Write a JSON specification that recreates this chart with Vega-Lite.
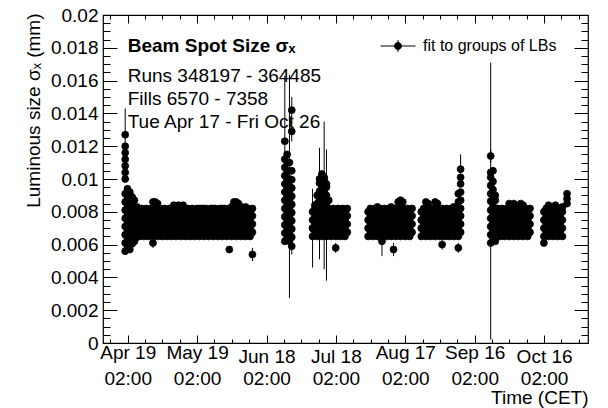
{
"$schema": "https://vega.github.io/schema/vega-lite/v6.json",
"width": 485, "height": 328,
"autosize": {"type": "none"},
"padding": {"left": 103, "top": 15, "right": 20, "bottom": 65},
"background": "white",
"config": {
  "view": {"stroke": "black", "strokeWidth": 1.2},
  "font": "Liberation Sans",
  "axis": {"domain": false, "grid": false, "labelColor": "black", "titleColor": "black", "tickColor": "black", "tickWidth": 1, "labelFont": "Liberation Sans", "titleFont": "Liberation Sans", "labelFontSize": 19, "titleFontSize": 19, "titleFontWeight": "normal", "labelFlush": false, "labelOverlap": false}
},
"datasets": {
"head": [{"t": "2018-04-19T02:00:00Z", "v": 0.01774, "label": "Beam Spot Size σₓ"}],
"notes": [
 {"t": "2018-04-19T02:00:00Z", "v": 0.01591, "label": "Runs 348197 - 364485"},
 {"t": "2018-04-19T02:00:00Z", "v": 0.01451, "label": "Fills 6570 - 7358"},
 {"t": "2018-04-19T02:00:00Z", "v": 0.01311, "label": "Tue Apr 17 - Fri Oct 26"}
],
"fits": [
{"t":"2018-04-18","v":0.0056},{"t":"2018-04-18","v":0.0061},{"t":"2018-04-18","v":0.0066},{"t":"2018-04-18","v":0.0071},{"t":"2018-04-18","v":0.0076},{"t":"2018-04-18","v":0.0081},{"t":"2018-04-18","v":0.0086},{"t":"2018-04-18","v":0.0091},{"t":"2018-04-18","v":0.0100},{"t":"2018-04-18","v":0.0104},{"t":"2018-04-18","v":0.0108},{"t":"2018-04-18","v":0.0112},{"t":"2018-04-18","v":0.0116},{"t":"2018-04-18","v":0.0120},{"t":"2018-04-18","v":0.0127,"e":0.0016},
{"t":"2018-04-19","v":0.00585},{"t":"2018-04-19","v":0.00635},{"t":"2018-04-19","v":0.00685},{"t":"2018-04-19","v":0.00735},{"t":"2018-04-19","v":0.00785},{"t":"2018-04-19","v":0.00835},{"t":"2018-04-19","v":0.00885},{"t":"2018-04-19","v":0.0094},
{"t":"2018-04-20","v":0.0057},{"t":"2018-04-20","v":0.0062},{"t":"2018-04-20","v":0.0067},{"t":"2018-04-20","v":0.0072},{"t":"2018-04-20","v":0.0077},{"t":"2018-04-20","v":0.0082},{"t":"2018-04-20","v":0.0087},{"t":"2018-04-20","v":0.0092},
{"t":"2018-04-21","v":0.00605},{"t":"2018-04-21","v":0.00655},{"t":"2018-04-21","v":0.00705},{"t":"2018-04-21","v":0.00755},{"t":"2018-04-21","v":0.00805},{"t":"2018-04-21","v":0.00855},{"t":"2018-04-21","v":0.0089},
{"t":"2018-04-22","v":0.0062},{"t":"2018-04-22","v":0.0067},{"t":"2018-04-22","v":0.0072},{"t":"2018-04-22","v":0.0077},{"t":"2018-04-22","v":0.0082},{"t":"2018-04-22","v":0.0087},
{"t":"2018-04-23","v":0.00645},{"t":"2018-04-23","v":0.00695},{"t":"2018-04-23","v":0.00745},{"t":"2018-04-23","v":0.00795},{"t":"2018-04-23","v":0.0083},
{"t":"2018-04-24","v":0.0065},{"t":"2018-04-24","v":0.0070},{"t":"2018-04-24","v":0.0075},{"t":"2018-04-24","v":0.0080},
{"t":"2018-04-25","v":0.00675},{"t":"2018-04-25","v":0.00725},{"t":"2018-04-25","v":0.00775},{"t":"2018-04-25","v":0.0082},
{"t":"2018-04-26","v":0.0065},{"t":"2018-04-26","v":0.0070},{"t":"2018-04-26","v":0.0075},{"t":"2018-04-26","v":0.0080},
{"t":"2018-04-27","v":0.00675},{"t":"2018-04-27","v":0.00725},{"t":"2018-04-27","v":0.00775},{"t":"2018-04-27","v":0.0082},
{"t":"2018-04-28","v":0.0065},{"t":"2018-04-28","v":0.0070},{"t":"2018-04-28","v":0.0075},{"t":"2018-04-28","v":0.0080},
{"t":"2018-04-29","v":0.00675},{"t":"2018-04-29","v":0.00725},{"t":"2018-04-29","v":0.00775},{"t":"2018-04-29","v":0.0082},
{"t":"2018-04-30","v":0.0065},{"t":"2018-04-30","v":0.0070},{"t":"2018-04-30","v":0.0075},{"t":"2018-04-30","v":0.0080},{"t":"2018-04-30","v":0.0086},{"t":"2018-04-30","v":0.0061,"e":0.0003},
{"t":"2018-05-01","v":0.00675},{"t":"2018-05-01","v":0.00725},{"t":"2018-05-01","v":0.00775},{"t":"2018-05-01","v":0.0082},{"t":"2018-05-01","v":0.0086},
{"t":"2018-05-02","v":0.0065},{"t":"2018-05-02","v":0.0070},{"t":"2018-05-02","v":0.0075},{"t":"2018-05-02","v":0.0080},{"t":"2018-05-02","v":0.0085},
{"t":"2018-05-03","v":0.00675},{"t":"2018-05-03","v":0.00725},{"t":"2018-05-03","v":0.00775},{"t":"2018-05-03","v":0.0082},
{"t":"2018-05-04","v":0.0065},{"t":"2018-05-04","v":0.0070},{"t":"2018-05-04","v":0.0075},{"t":"2018-05-04","v":0.0080},
{"t":"2018-05-05","v":0.00675},{"t":"2018-05-05","v":0.00725},{"t":"2018-05-05","v":0.00775},{"t":"2018-05-05","v":0.0082},
{"t":"2018-05-06","v":0.0065},{"t":"2018-05-06","v":0.0070},{"t":"2018-05-06","v":0.0075},{"t":"2018-05-06","v":0.0080},
{"t":"2018-05-07","v":0.00675},{"t":"2018-05-07","v":0.00725},{"t":"2018-05-07","v":0.00775},{"t":"2018-05-07","v":0.0082},
{"t":"2018-05-08","v":0.0065},{"t":"2018-05-08","v":0.0070},{"t":"2018-05-08","v":0.0075},{"t":"2018-05-08","v":0.0080},
{"t":"2018-05-09","v":0.00675},{"t":"2018-05-09","v":0.00725},{"t":"2018-05-09","v":0.00775},{"t":"2018-05-09","v":0.0082},{"t":"2018-05-09","v":0.0084},
{"t":"2018-05-10","v":0.0065},{"t":"2018-05-10","v":0.0070},{"t":"2018-05-10","v":0.0075},{"t":"2018-05-10","v":0.0080},{"t":"2018-05-10","v":0.0083},
{"t":"2018-05-11","v":0.00675},{"t":"2018-05-11","v":0.00725},{"t":"2018-05-11","v":0.00775},{"t":"2018-05-11","v":0.0082},{"t":"2018-05-11","v":0.0084},
{"t":"2018-05-12","v":0.0065},{"t":"2018-05-12","v":0.0070},{"t":"2018-05-12","v":0.0075},{"t":"2018-05-12","v":0.0080},{"t":"2018-05-12","v":0.0083},
{"t":"2018-05-13","v":0.00675},{"t":"2018-05-13","v":0.00725},{"t":"2018-05-13","v":0.00775},{"t":"2018-05-13","v":0.0082},{"t":"2018-05-13","v":0.0084},
{"t":"2018-05-14","v":0.0065},{"t":"2018-05-14","v":0.0070},{"t":"2018-05-14","v":0.0075},{"t":"2018-05-14","v":0.0080},
{"t":"2018-05-15","v":0.00675},{"t":"2018-05-15","v":0.00725},{"t":"2018-05-15","v":0.00775},{"t":"2018-05-15","v":0.0082},
{"t":"2018-05-16","v":0.0065},{"t":"2018-05-16","v":0.0070},{"t":"2018-05-16","v":0.0075},{"t":"2018-05-16","v":0.0080},
{"t":"2018-05-17","v":0.00675},{"t":"2018-05-17","v":0.00725},{"t":"2018-05-17","v":0.00775},{"t":"2018-05-17","v":0.0082},
{"t":"2018-05-18","v":0.0065},{"t":"2018-05-18","v":0.0070},{"t":"2018-05-18","v":0.0075},{"t":"2018-05-18","v":0.0080},
{"t":"2018-05-19","v":0.00675},{"t":"2018-05-19","v":0.00725},{"t":"2018-05-19","v":0.00775},{"t":"2018-05-19","v":0.0082},
{"t":"2018-05-20","v":0.0065},{"t":"2018-05-20","v":0.0070},{"t":"2018-05-20","v":0.0075},{"t":"2018-05-20","v":0.0080},{"t":"2018-05-20","v":0.0082},
{"t":"2018-05-21","v":0.00675},{"t":"2018-05-21","v":0.00725},{"t":"2018-05-21","v":0.00775},{"t":"2018-05-21","v":0.0082},
{"t":"2018-05-22","v":0.0065},{"t":"2018-05-22","v":0.0070},{"t":"2018-05-22","v":0.0075},{"t":"2018-05-22","v":0.0080},{"t":"2018-05-22","v":0.0082},
{"t":"2018-05-23","v":0.00675},{"t":"2018-05-23","v":0.00725},{"t":"2018-05-23","v":0.00775},{"t":"2018-05-23","v":0.0082},
{"t":"2018-05-24","v":0.0065},{"t":"2018-05-24","v":0.0070},{"t":"2018-05-24","v":0.0075},{"t":"2018-05-24","v":0.0080},
{"t":"2018-05-25","v":0.00675},{"t":"2018-05-25","v":0.00725},{"t":"2018-05-25","v":0.00775},{"t":"2018-05-25","v":0.0082},
{"t":"2018-05-26","v":0.0065},{"t":"2018-05-26","v":0.0070},{"t":"2018-05-26","v":0.0075},{"t":"2018-05-26","v":0.0080},{"t":"2018-05-26","v":0.0082},
{"t":"2018-05-27","v":0.00675},{"t":"2018-05-27","v":0.00725},{"t":"2018-05-27","v":0.00775},{"t":"2018-05-27","v":0.0082},
{"t":"2018-05-28","v":0.0065},{"t":"2018-05-28","v":0.0070},{"t":"2018-05-28","v":0.0075},{"t":"2018-05-28","v":0.0080},
{"t":"2018-05-29","v":0.00675},{"t":"2018-05-29","v":0.00725},{"t":"2018-05-29","v":0.00775},{"t":"2018-05-29","v":0.0082},
{"t":"2018-05-30","v":0.0065},{"t":"2018-05-30","v":0.0070},{"t":"2018-05-30","v":0.0075},{"t":"2018-05-30","v":0.0080},{"t":"2018-05-30","v":0.0082},
{"t":"2018-05-31","v":0.00675},{"t":"2018-05-31","v":0.00725},{"t":"2018-05-31","v":0.00775},{"t":"2018-05-31","v":0.0082},
{"t":"2018-06-01","v":0.0065},{"t":"2018-06-01","v":0.0070},{"t":"2018-06-01","v":0.0075},{"t":"2018-06-01","v":0.0080},
{"t":"2018-06-02","v":0.00675},{"t":"2018-06-02","v":0.00725},{"t":"2018-06-02","v":0.00775},{"t":"2018-06-02","v":0.0082},{"t":"2018-06-02","v":0.0057,"e":0.0002},
{"t":"2018-06-03","v":0.0065},{"t":"2018-06-03","v":0.0070},{"t":"2018-06-03","v":0.0075},{"t":"2018-06-03","v":0.0080},{"t":"2018-06-03","v":0.0083},
{"t":"2018-06-04","v":0.00675},{"t":"2018-06-04","v":0.00725},{"t":"2018-06-04","v":0.00775},{"t":"2018-06-04","v":0.0082},{"t":"2018-06-04","v":0.0086},
{"t":"2018-06-05","v":0.0065},{"t":"2018-06-05","v":0.0070},{"t":"2018-06-05","v":0.0075},{"t":"2018-06-05","v":0.0080},{"t":"2018-06-05","v":0.0086},
{"t":"2018-06-06","v":0.00675},{"t":"2018-06-06","v":0.00725},{"t":"2018-06-06","v":0.00775},{"t":"2018-06-06","v":0.0082},{"t":"2018-06-06","v":0.0085},
{"t":"2018-06-07","v":0.0065},{"t":"2018-06-07","v":0.0070},{"t":"2018-06-07","v":0.0075},{"t":"2018-06-07","v":0.0080},{"t":"2018-06-07","v":0.0083},
{"t":"2018-06-08","v":0.00675},{"t":"2018-06-08","v":0.00725},{"t":"2018-06-08","v":0.00775},{"t":"2018-06-08","v":0.0082},
{"t":"2018-06-09","v":0.0065},{"t":"2018-06-09","v":0.0070},{"t":"2018-06-09","v":0.0075},{"t":"2018-06-09","v":0.0080},{"t":"2018-06-09","v":0.0083},
{"t":"2018-06-10","v":0.00675},{"t":"2018-06-10","v":0.00725},{"t":"2018-06-10","v":0.00775},{"t":"2018-06-10","v":0.0082},
{"t":"2018-06-11","v":0.0065},{"t":"2018-06-11","v":0.0070},{"t":"2018-06-11","v":0.0075},{"t":"2018-06-11","v":0.0080},
{"t":"2018-06-12","v":0.00675},{"t":"2018-06-12","v":0.00725},{"t":"2018-06-12","v":0.00775},{"t":"2018-06-12","v":0.0082},{"t":"2018-06-12","v":0.0054,"e":0.0004},
{"t":"2018-06-26","v":0.0062},{"t":"2018-06-26","v":0.0067},{"t":"2018-06-26","v":0.0072},{"t":"2018-06-26","v":0.0077},{"t":"2018-06-26","v":0.0082},{"t":"2018-06-26","v":0.0087},{"t":"2018-06-26","v":0.0092},{"t":"2018-06-26","v":0.0097},{"t":"2018-06-26","v":0.0102},{"t":"2018-06-26","v":0.0107},{"t":"2018-06-26","v":0.0112},{"t":"2018-06-26","v":0.0123,"e":0.0040},
{"t":"2018-06-27","v":0.00645},{"t":"2018-06-27","v":0.00695},{"t":"2018-06-27","v":0.00745},{"t":"2018-06-27","v":0.00795},{"t":"2018-06-27","v":0.00845},{"t":"2018-06-27","v":0.00895},{"t":"2018-06-27","v":0.00945},{"t":"2018-06-27","v":0.00995},{"t":"2018-06-27","v":0.01045},{"t":"2018-06-27","v":0.0110},{"t":"2018-06-27","v":0.0115},
{"t":"2018-06-28","v":0.0062},{"t":"2018-06-28","v":0.0067},{"t":"2018-06-28","v":0.0072},{"t":"2018-06-28","v":0.0077},{"t":"2018-06-28","v":0.0082},{"t":"2018-06-28","v":0.0087},{"t":"2018-06-28","v":0.0092},{"t":"2018-06-28","v":0.00955,"e":0.0068},{"t":"2018-06-28","v":0.0100},{"t":"2018-06-28","v":0.0105},{"t":"2018-06-28","v":0.0110},
{"t":"2018-06-29","v":0.0059,"e":0.0005},{"t":"2018-06-29","v":0.00645},{"t":"2018-06-29","v":0.00695},{"t":"2018-06-29","v":0.00745},{"t":"2018-06-29","v":0.00795},{"t":"2018-06-29","v":0.00845},{"t":"2018-06-29","v":0.00895},{"t":"2018-06-29","v":0.00945},{"t":"2018-06-29","v":0.00995},{"t":"2018-06-29","v":0.0105},{"t":"2018-06-29","v":0.0129,"e":0.0006},{"t":"2018-06-29","v":0.0142,"e":0.0008},
{"t":"2018-07-08","v":0.0065},{"t":"2018-07-08","v":0.0070},{"t":"2018-07-08","v":0.0075},{"t":"2018-07-08","v":0.0080},{"t":"2018-07-08","v":0.0070,"e":0.0024},
{"t":"2018-07-09","v":0.00675},{"t":"2018-07-09","v":0.00725},{"t":"2018-07-09","v":0.00775},{"t":"2018-07-09","v":0.0082},{"t":"2018-07-09","v":0.0084},
{"t":"2018-07-10","v":0.0065},{"t":"2018-07-10","v":0.0070},{"t":"2018-07-10","v":0.0075},{"t":"2018-07-10","v":0.0080},{"t":"2018-07-10","v":0.0085},{"t":"2018-07-10","v":0.0090},
{"t":"2018-07-11","v":0.00675},{"t":"2018-07-11","v":0.00725},{"t":"2018-07-11","v":0.00775},{"t":"2018-07-11","v":0.00825},{"t":"2018-07-11","v":0.00875},{"t":"2018-07-11","v":0.00925},{"t":"2018-07-11","v":0.00975},{"t":"2018-07-11","v":0.0100},{"t":"2018-07-11","v":0.0085,"e":0.0034},
{"t":"2018-07-12","v":0.0065},{"t":"2018-07-12","v":0.0070},{"t":"2018-07-12","v":0.0075},{"t":"2018-07-12","v":0.0080},{"t":"2018-07-12","v":0.0085},{"t":"2018-07-12","v":0.0090},{"t":"2018-07-12","v":0.0095},{"t":"2018-07-12","v":0.0100},{"t":"2018-07-12","v":0.0103},
{"t":"2018-07-13","v":0.00675},{"t":"2018-07-13","v":0.00725},{"t":"2018-07-13","v":0.00775},{"t":"2018-07-13","v":0.00825},{"t":"2018-07-13","v":0.00875},{"t":"2018-07-13","v":0.00925},{"t":"2018-07-13","v":0.00975},{"t":"2018-07-13","v":0.0101},{"t":"2018-07-13","v":0.0100,"e":0.0035},{"t":"2018-07-13","v":0.0070,"e":0.0025},
{"t":"2018-07-14","v":0.0065},{"t":"2018-07-14","v":0.0070},{"t":"2018-07-14","v":0.0075},{"t":"2018-07-14","v":0.0078,"e":0.0040},{"t":"2018-07-14","v":0.0080},{"t":"2018-07-14","v":0.0085},{"t":"2018-07-14","v":0.0090},{"t":"2018-07-14","v":0.0095},{"t":"2018-07-14","v":0.0097},
{"t":"2018-07-15","v":0.00675},{"t":"2018-07-15","v":0.00725},{"t":"2018-07-15","v":0.00775},{"t":"2018-07-15","v":0.0082},{"t":"2018-07-15","v":0.0087},
{"t":"2018-07-16","v":0.0065},{"t":"2018-07-16","v":0.0070},{"t":"2018-07-16","v":0.0075},{"t":"2018-07-16","v":0.0080},
{"t":"2018-07-17","v":0.00675},{"t":"2018-07-17","v":0.00725},{"t":"2018-07-17","v":0.00775},{"t":"2018-07-17","v":0.0082},
{"t":"2018-07-18","v":0.0065},{"t":"2018-07-18","v":0.0070},{"t":"2018-07-18","v":0.0075},{"t":"2018-07-18","v":0.0080},{"t":"2018-07-18","v":0.0058,"e":0.0003},
{"t":"2018-07-19","v":0.00675},{"t":"2018-07-19","v":0.00725},{"t":"2018-07-19","v":0.00775},{"t":"2018-07-19","v":0.0082},
{"t":"2018-07-20","v":0.0065},{"t":"2018-07-20","v":0.0070},{"t":"2018-07-20","v":0.0075},{"t":"2018-07-20","v":0.0080},
{"t":"2018-07-21","v":0.00675},{"t":"2018-07-21","v":0.00725},{"t":"2018-07-21","v":0.00775},{"t":"2018-07-21","v":0.0082},
{"t":"2018-07-22","v":0.0065},{"t":"2018-07-22","v":0.0070},{"t":"2018-07-22","v":0.0075},{"t":"2018-07-22","v":0.0080},
{"t":"2018-07-23","v":0.00675},{"t":"2018-07-23","v":0.00725},{"t":"2018-07-23","v":0.00775},{"t":"2018-07-23","v":0.0082},
{"t":"2018-08-01","v":0.0065},{"t":"2018-08-01","v":0.0070},{"t":"2018-08-01","v":0.0075},{"t":"2018-08-01","v":0.0080},
{"t":"2018-08-02","v":0.00675},{"t":"2018-08-02","v":0.00725},{"t":"2018-08-02","v":0.00775},{"t":"2018-08-02","v":0.0082},
{"t":"2018-08-03","v":0.0065},{"t":"2018-08-03","v":0.0070},{"t":"2018-08-03","v":0.0075},{"t":"2018-08-03","v":0.0080},
{"t":"2018-08-04","v":0.00675},{"t":"2018-08-04","v":0.00725},{"t":"2018-08-04","v":0.00775},{"t":"2018-08-04","v":0.0082},
{"t":"2018-08-05","v":0.0065},{"t":"2018-08-05","v":0.0070},{"t":"2018-08-05","v":0.0075},{"t":"2018-08-05","v":0.0080},{"t":"2018-08-05","v":0.0083},
{"t":"2018-08-06","v":0.00675},{"t":"2018-08-06","v":0.00725},{"t":"2018-08-06","v":0.00775},{"t":"2018-08-06","v":0.0082},
{"t":"2018-08-07","v":0.0065},{"t":"2018-08-07","v":0.0070},{"t":"2018-08-07","v":0.0075},{"t":"2018-08-07","v":0.0080},{"t":"2018-08-07","v":0.0062,"e":0.0009},
{"t":"2018-08-08","v":0.00675},{"t":"2018-08-08","v":0.00725},{"t":"2018-08-08","v":0.00775},{"t":"2018-08-08","v":0.0082},
{"t":"2018-08-09","v":0.0065},{"t":"2018-08-09","v":0.0070},{"t":"2018-08-09","v":0.0075},{"t":"2018-08-09","v":0.0080},
{"t":"2018-08-10","v":0.00675},{"t":"2018-08-10","v":0.00725},{"t":"2018-08-10","v":0.00775},{"t":"2018-08-10","v":0.0082},
{"t":"2018-08-11","v":0.0065},{"t":"2018-08-11","v":0.0070},{"t":"2018-08-11","v":0.0075},{"t":"2018-08-11","v":0.0080},{"t":"2018-08-11","v":0.0083},
{"t":"2018-08-12","v":0.00675},{"t":"2018-08-12","v":0.00725},{"t":"2018-08-12","v":0.00775},{"t":"2018-08-12","v":0.0082},{"t":"2018-08-12","v":0.0057,"e":0.0004},
{"t":"2018-08-13","v":0.0065},{"t":"2018-08-13","v":0.0070},{"t":"2018-08-13","v":0.0075},{"t":"2018-08-13","v":0.0080},
{"t":"2018-08-14","v":0.00675},{"t":"2018-08-14","v":0.00725},{"t":"2018-08-14","v":0.00775},{"t":"2018-08-14","v":0.0082},{"t":"2018-08-14","v":0.0086},
{"t":"2018-08-15","v":0.0065},{"t":"2018-08-15","v":0.0070},{"t":"2018-08-15","v":0.0075},{"t":"2018-08-15","v":0.0080},{"t":"2018-08-15","v":0.0087},
{"t":"2018-08-16","v":0.00675},{"t":"2018-08-16","v":0.00725},{"t":"2018-08-16","v":0.00775},{"t":"2018-08-16","v":0.0082},{"t":"2018-08-16","v":0.0086},
{"t":"2018-08-17","v":0.0065},{"t":"2018-08-17","v":0.0070},{"t":"2018-08-17","v":0.0075},{"t":"2018-08-17","v":0.0080},
{"t":"2018-08-18","v":0.00675},{"t":"2018-08-18","v":0.00725},{"t":"2018-08-18","v":0.00775},{"t":"2018-08-18","v":0.0082},
{"t":"2018-08-19","v":0.0065},{"t":"2018-08-19","v":0.0070},{"t":"2018-08-19","v":0.0075},{"t":"2018-08-19","v":0.0080},
{"t":"2018-08-20","v":0.00675},{"t":"2018-08-20","v":0.00725},{"t":"2018-08-20","v":0.00775},{"t":"2018-08-20","v":0.0082},
{"t":"2018-08-24","v":0.0065},{"t":"2018-08-24","v":0.0070},{"t":"2018-08-24","v":0.0075},{"t":"2018-08-24","v":0.0080},
{"t":"2018-08-25","v":0.00675},{"t":"2018-08-25","v":0.00725},{"t":"2018-08-25","v":0.00775},{"t":"2018-08-25","v":0.0082},
{"t":"2018-08-26","v":0.0065},{"t":"2018-08-26","v":0.0070},{"t":"2018-08-26","v":0.0075},{"t":"2018-08-26","v":0.0080},{"t":"2018-08-26","v":0.0086},
{"t":"2018-08-27","v":0.00675},{"t":"2018-08-27","v":0.00725},{"t":"2018-08-27","v":0.00775},{"t":"2018-08-27","v":0.0082},{"t":"2018-08-27","v":0.0085},
{"t":"2018-08-28","v":0.0065},{"t":"2018-08-28","v":0.0070},{"t":"2018-08-28","v":0.0075},{"t":"2018-08-28","v":0.0080},
{"t":"2018-08-29","v":0.00675},{"t":"2018-08-29","v":0.00725},{"t":"2018-08-29","v":0.00775},{"t":"2018-08-29","v":0.0082},
{"t":"2018-08-30","v":0.0065},{"t":"2018-08-30","v":0.0070},{"t":"2018-08-30","v":0.0075},{"t":"2018-08-30","v":0.0080},{"t":"2018-08-30","v":0.0086},
{"t":"2018-08-31","v":0.00675},{"t":"2018-08-31","v":0.00725},{"t":"2018-08-31","v":0.00775},{"t":"2018-08-31","v":0.0082},{"t":"2018-08-31","v":0.0085},
{"t":"2018-09-01","v":0.0065},{"t":"2018-09-01","v":0.0070},{"t":"2018-09-01","v":0.0075},{"t":"2018-09-01","v":0.0080},
{"t":"2018-09-02","v":0.00675},{"t":"2018-09-02","v":0.00725},{"t":"2018-09-02","v":0.00775},{"t":"2018-09-02","v":0.0082},{"t":"2018-09-02","v":0.0060,"e":0.0003},
{"t":"2018-09-03","v":0.0065},{"t":"2018-09-03","v":0.0070},{"t":"2018-09-03","v":0.0075},{"t":"2018-09-03","v":0.0080},
{"t":"2018-09-04","v":0.00675},{"t":"2018-09-04","v":0.00725},{"t":"2018-09-04","v":0.00775},{"t":"2018-09-04","v":0.0082},
{"t":"2018-09-05","v":0.0065},{"t":"2018-09-05","v":0.0070},{"t":"2018-09-05","v":0.0075},{"t":"2018-09-05","v":0.0080},
{"t":"2018-09-06","v":0.00675},{"t":"2018-09-06","v":0.00725},{"t":"2018-09-06","v":0.00775},{"t":"2018-09-06","v":0.0082},
{"t":"2018-09-07","v":0.0065},{"t":"2018-09-07","v":0.0070},{"t":"2018-09-07","v":0.0075},{"t":"2018-09-07","v":0.0080},{"t":"2018-09-07","v":0.0083},
{"t":"2018-09-08","v":0.00675},{"t":"2018-09-08","v":0.00725},{"t":"2018-09-08","v":0.00775},{"t":"2018-09-08","v":0.0082},
{"t":"2018-09-09","v":0.0065},{"t":"2018-09-09","v":0.0070},{"t":"2018-09-09","v":0.0075},{"t":"2018-09-09","v":0.0080},{"t":"2018-09-09","v":0.0086},{"t":"2018-09-09","v":0.0091},{"t":"2018-09-09","v":0.0058,"e":0.0003},
{"t":"2018-09-10","v":0.00675},{"t":"2018-09-10","v":0.00725},{"t":"2018-09-10","v":0.00775},{"t":"2018-09-10","v":0.0082},{"t":"2018-09-10","v":0.0087},{"t":"2018-09-10","v":0.0092},{"t":"2018-09-10","v":0.0097},{"t":"2018-09-10","v":0.0101},{"t":"2018-09-10","v":0.0106,"e":0.0009},
{"t":"2018-09-23","v":0.0061},{"t":"2018-09-23","v":0.0066},{"t":"2018-09-23","v":0.0071},{"t":"2018-09-23","v":0.0076},{"t":"2018-09-23","v":0.0081},{"t":"2018-09-23","v":0.00865,"e":0.00845},{"t":"2018-09-23","v":0.0091},{"t":"2018-09-23","v":0.0096},{"t":"2018-09-23","v":0.0101},{"t":"2018-09-23","v":0.0104},{"t":"2018-09-23","v":0.0114,"e":0.0004},
{"t":"2018-09-24","v":0.00635},{"t":"2018-09-24","v":0.00685},{"t":"2018-09-24","v":0.00735},{"t":"2018-09-24","v":0.00785},{"t":"2018-09-24","v":0.00835},{"t":"2018-09-24","v":0.00885},{"t":"2018-09-24","v":0.00935},{"t":"2018-09-24","v":0.00985},{"t":"2018-09-24","v":0.0105},
{"t":"2018-09-25","v":0.0062},{"t":"2018-09-25","v":0.0067},{"t":"2018-09-25","v":0.0072},{"t":"2018-09-25","v":0.0077},{"t":"2018-09-25","v":0.0082},{"t":"2018-09-25","v":0.0087},{"t":"2018-09-25","v":0.0090},
{"t":"2018-09-26","v":0.00675},{"t":"2018-09-26","v":0.00725},{"t":"2018-09-26","v":0.00775},{"t":"2018-09-26","v":0.0082},
{"t":"2018-09-27","v":0.0065},{"t":"2018-09-27","v":0.0070},{"t":"2018-09-27","v":0.0075},{"t":"2018-09-27","v":0.0080},
{"t":"2018-09-28","v":0.00675},{"t":"2018-09-28","v":0.00725},{"t":"2018-09-28","v":0.00775},{"t":"2018-09-28","v":0.0082},
{"t":"2018-09-29","v":0.0065},{"t":"2018-09-29","v":0.0070},{"t":"2018-09-29","v":0.0075},{"t":"2018-09-29","v":0.0080},
{"t":"2018-09-30","v":0.00675},{"t":"2018-09-30","v":0.00725},{"t":"2018-09-30","v":0.00775},{"t":"2018-09-30","v":0.0082},
{"t":"2018-10-01","v":0.0065},{"t":"2018-10-01","v":0.0070},{"t":"2018-10-01","v":0.0075},{"t":"2018-10-01","v":0.0080},{"t":"2018-10-01","v":0.0085},
{"t":"2018-10-02","v":0.00675},{"t":"2018-10-02","v":0.00725},{"t":"2018-10-02","v":0.00775},{"t":"2018-10-02","v":0.0082},
{"t":"2018-10-03","v":0.0065},{"t":"2018-10-03","v":0.0070},{"t":"2018-10-03","v":0.0075},{"t":"2018-10-03","v":0.0080},{"t":"2018-10-03","v":0.0085},
{"t":"2018-10-04","v":0.00675},{"t":"2018-10-04","v":0.00725},{"t":"2018-10-04","v":0.00775},{"t":"2018-10-04","v":0.0082},
{"t":"2018-10-05","v":0.0065},{"t":"2018-10-05","v":0.0070},{"t":"2018-10-05","v":0.0075},{"t":"2018-10-05","v":0.0080},
{"t":"2018-10-06","v":0.00675},{"t":"2018-10-06","v":0.00725},{"t":"2018-10-06","v":0.00775},{"t":"2018-10-06","v":0.0082},{"t":"2018-10-06","v":0.0085},
{"t":"2018-10-07","v":0.0065},{"t":"2018-10-07","v":0.0070},{"t":"2018-10-07","v":0.0075},{"t":"2018-10-07","v":0.0080},{"t":"2018-10-07","v":0.0084},
{"t":"2018-10-08","v":0.00675},{"t":"2018-10-08","v":0.00725},{"t":"2018-10-08","v":0.00775},{"t":"2018-10-08","v":0.0082},
{"t":"2018-10-09","v":0.0065},{"t":"2018-10-09","v":0.0070},{"t":"2018-10-09","v":0.0075},{"t":"2018-10-09","v":0.0080},
{"t":"2018-10-10","v":0.00675},{"t":"2018-10-10","v":0.00725},{"t":"2018-10-10","v":0.00775},{"t":"2018-10-10","v":0.0082},
{"t":"2018-10-16","v":0.0061},{"t":"2018-10-16","v":0.0065},{"t":"2018-10-16","v":0.0070},{"t":"2018-10-16","v":0.0075},{"t":"2018-10-16","v":0.0080},
{"t":"2018-10-17","v":0.00675},{"t":"2018-10-17","v":0.00725},{"t":"2018-10-17","v":0.00775},{"t":"2018-10-17","v":0.0082},
{"t":"2018-10-18","v":0.0065},{"t":"2018-10-18","v":0.0070},{"t":"2018-10-18","v":0.0075},{"t":"2018-10-18","v":0.0080},{"t":"2018-10-18","v":0.0084},
{"t":"2018-10-19","v":0.00675},{"t":"2018-10-19","v":0.00725},{"t":"2018-10-19","v":0.00775},{"t":"2018-10-19","v":0.0082},
{"t":"2018-10-20","v":0.0065},{"t":"2018-10-20","v":0.0070},{"t":"2018-10-20","v":0.0075},{"t":"2018-10-20","v":0.0080},
{"t":"2018-10-21","v":0.00675},{"t":"2018-10-21","v":0.00725},{"t":"2018-10-21","v":0.00775},{"t":"2018-10-21","v":0.0082},{"t":"2018-10-21","v":0.0084},
{"t":"2018-10-22","v":0.0065},{"t":"2018-10-22","v":0.0070},{"t":"2018-10-22","v":0.0075},{"t":"2018-10-22","v":0.0080},
{"t":"2018-10-23","v":0.00675},{"t":"2018-10-23","v":0.00725},{"t":"2018-10-23","v":0.00775},{"t":"2018-10-23","v":0.0082},
{"t":"2018-10-24","v":0.0065},{"t":"2018-10-24","v":0.0070},{"t":"2018-10-24","v":0.0075},{"t":"2018-10-24","v":0.0080},{"t":"2018-10-24","v":0.0083},
{"t":"2018-10-26","v":0.0085},{"t":"2018-10-26","v":0.0088},{"t":"2018-10-26","v":0.0091}
]
},
"resolve": {"axis": {"x": "independent", "y": "independent"}},
"layer": [
{
 "data": {"name": "fits"},
 "transform": [{"filter": "isValid(datum.e)"}],
 "mark": {"type": "errorbar", "color": "black", "thickness": 1},
 "encoding": {
  "x": {"field": "t", "type": "temporal", "scale": {"type": "utc", "domain": [1523180448000, 1541295072000], "nice": false},
        "axis": {"orient": "bottom", "labels": false, "title": null, "values": [1523455200000,1524103200000,1524751200000,1525399200000,1526047200000,1526695200000,1527343200000,1527991200000,1528639200000,1529287200000,1529935200000,1530583200000,1531231200000,1531879200000,1532527200000,1533175200000,1533823200000,1534471200000,1535119200000,1535767200000,1536415200000,1537063200000,1537711200000,1538359200000,1539007200000,1539655200000,1540303200000,1540951200000],
                 "tickSize": {"condition": {"test": "abs((datum.value - 1524103200000) % 2592000000) < 1000", "value": -8}, "value": -4}}},
  "y": {"field": "v", "type": "quantitative", "scale": {"domain": [0, 0.02], "nice": false, "zero": false},
        "axis": {"orient": "left", "labels": false, "title": null, "values": [0,0.0005,0.001,0.0015,0.002,0.0025,0.003,0.0035,0.004,0.0045,0.005,0.0055,0.006,0.0065,0.007,0.0075,0.008,0.0085,0.009,0.0095,0.01,0.0105,0.011,0.0115,0.012,0.0125,0.013,0.0135,0.014,0.0145,0.015,0.0155,0.016,0.0165,0.017,0.0175,0.018,0.0185,0.019,0.0195,0.02],
                 "tickSize": {"condition": {"test": "abs(datum.value*500 - round(datum.value*500)) < 0.01", "value": -14}, "value": -7}}},
  "yError": {"field": "e"}
 }
},
{
 "data": {"name": "fits"},
 "mark": {"type": "circle", "size": 48, "opacity": 1, "stroke": "black", "strokeWidth": 0.8},
 "encoding": {
  "x": {"field": "t", "type": "temporal", "scale": {"type": "utc", "domain": [1523180448000, 1541295072000], "nice": false},
        "axis": {"orient": "bottom", "ticks": false, "tickSize": 0, "values": [1524103200000,1526695200000,1529287200000,1531879200000,1534471200000,1537063200000,1539655200000],
                 "labelExpr": "utcFormat(datum.value, '%b %d')", "labelBaseline": "top", "labelAlign": "center",
                 "labelPadding": {"condition": {"test": "utcmonth(datum.value) == 3 || utcmonth(datum.value) == 4 || utcmonth(datum.value) == 7 || utcmonth(datum.value) == 8", "value": 0}, "value": 4},
                 "title": "Time (CET)", "titleAlign": "right", "titleBaseline": "alphabetic", "titleX": 485, "titleY": 60}},
  "y": {"field": "v", "type": "quantitative", "scale": {"domain": [0, 0.02], "nice": false, "zero": false},
        "axis": {"orient": "left", "ticks": false, "tickSize": 0, "values": [0,0.002,0.004,0.006,0.008,0.01,0.012,0.014,0.016,0.018,0.02], "format": "~g", "labelPadding": 5, "labelBaseline": "middle",
                 "title": "Luminous size σₓ (mm)", "titleAngle": 270, "titleAlign": "right", "titleBaseline": "alphabetic", "titleX": -64, "titleY": -2}},
  "color": {"datum": "fit to groups of LBs", "scale": {"range": ["black"]},
            "legend": {"orient": "none", "legendX": 277, "legendY": 13, "title": null, "padding": 0,
                       "symbolType": "M-1,0H1M0,-0.34V0.34M0.2,0A0.2,0.2 0 1,1 -0.2,0A0.2,0.2 0 1,1 0.2,0Z",
                       "symbolSize": 1225, "symbolStrokeColor": "black", "symbolStrokeWidth": 1, "symbolFillColor": "black", "symbolOpacity": 1,
                       "labelFont": "Liberation Sans", "labelFontSize": 16, "labelOffset": 7, "labelColor": "black"}}
 }
},
{
 "data": {"name": "head"},
 "mark": {"type": "text", "align": "left", "baseline": "alphabetic", "fontSize": 19, "fontWeight": "bold", "font": "Liberation Sans", "color": "black"},
 "encoding": {
  "x": {"field": "t", "type": "temporal", "scale": {"type": "utc", "domain": [1523180448000, 1541295072000], "nice": false},
        "axis": {"orient": "top", "labels": false, "title": null, "values": [1523455200000,1524103200000,1524751200000,1525399200000,1526047200000,1526695200000,1527343200000,1527991200000,1528639200000,1529287200000,1529935200000,1530583200000,1531231200000,1531879200000,1532527200000,1533175200000,1533823200000,1534471200000,1535119200000,1535767200000,1536415200000,1537063200000,1537711200000,1538359200000,1539007200000,1539655200000,1540303200000,1540951200000],
                 "tickSize": {"condition": {"test": "abs((datum.value - 1524103200000) % 2592000000) < 1000", "value": -8}, "value": -4}}},
  "y": {"field": "v", "type": "quantitative", "scale": {"domain": [0, 0.02], "nice": false, "zero": false},
        "axis": {"orient": "right", "labels": false, "title": null, "values": [0,0.0005,0.001,0.0015,0.002,0.0025,0.003,0.0035,0.004,0.0045,0.005,0.0055,0.006,0.0065,0.007,0.0075,0.008,0.0085,0.009,0.0095,0.01,0.0105,0.011,0.0115,0.012,0.0125,0.013,0.0135,0.014,0.0145,0.015,0.0155,0.016,0.0165,0.017,0.0175,0.018,0.0185,0.019,0.0195,0.02],
                 "tickSize": {"condition": {"test": "abs(datum.value*500 - round(datum.value*500)) < 0.01", "value": -14}, "value": -7}}},
  "text": {"field": "label"}
 }
},
{
 "data": {"name": "notes"},
 "mark": {"type": "text", "align": "left", "baseline": "alphabetic", "fontSize": 19, "font": "Liberation Sans", "color": "black"},
 "encoding": {
  "x": {"field": "t", "type": "temporal", "scale": {"type": "utc", "domain": [1523180448000, 1541295072000], "nice": false},
        "axis": {"orient": "bottom", "ticks": false, "tickSize": 0, "values": [1524103200000,1526695200000,1529287200000,1531879200000,1534471200000,1537063200000,1539655200000],
                 "labelExpr": "utcFormat(datum.value, '%H:%M')", "labelBaseline": "top", "labelAlign": "center", "labelPadding": 26, "title": null}},
  "y": {"field": "v", "type": "quantitative", "scale": {"domain": [0, 0.02], "nice": false, "zero": false}, "axis": null},
  "text": {"field": "label"}
 }
}
]
}
